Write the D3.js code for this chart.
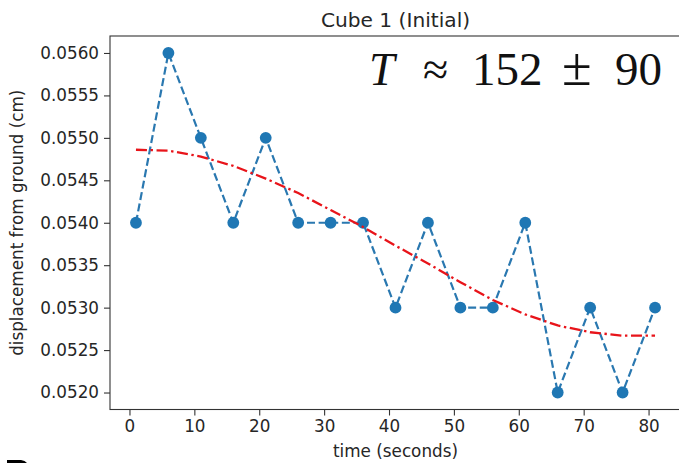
<!DOCTYPE html>
<html>
<head>
<meta charset="utf-8">
<script src="https://cdn.jsdelivr.net/npm/d3@7/dist/d3.min.js"></script>
<style>
  html, body { margin: 0; padding: 0; background: #fff; }
  svg { display: block; }
</style>
</head>
<body>
<svg id="chart" width="679" height="463"></svg>
<script>
// ---- data ----
const times = [1, 6, 11, 16, 21, 26, 31, 36, 41, 46, 51, 56, 61, 66, 71, 76, 81];
const displacement = [0.0540, 0.0560, 0.0550, 0.0540, 0.0550, 0.0540, 0.0540, 0.0540, 0.0530,
                      0.0540, 0.0530, 0.0530, 0.0540, 0.0520, 0.0530, 0.0520, 0.0530];
const fitValues = [0.05486, 0.05485, 0.05478, 0.05467, 0.05452, 0.05435, 0.05415, 0.05395, 0.05373,
                   0.05352, 0.05330, 0.05309, 0.05292, 0.05279, 0.05271, 0.05267, 0.05267];
const xTicks = [0, 10, 20, 30, 40, 50, 60, 70, 80];
const yTicks = [0.0520, 0.0525, 0.0530, 0.0535, 0.0540, 0.0545, 0.0550, 0.0555, 0.0560];
const titleText = "Cube 1 (Initial)";
const xLabel = "time (seconds)";
const yLabel = "displacement from ground (cm)";
const periodParts = ["T", "\u2248", "152", "\u00B1", "90"];

// ---- layout ----
const svg = d3.select("#chart");
const L = 110, T = 36, R = 681, B = 409.5;
const font = "'DejaVu Sans', sans-serif";
const fs = 16.8;

const x = d3.scaleLinear().domain([-3, 85]).range([L, R]);
const y = d3.scaleLinear().domain([0.0518, 0.0562]).range([B, T]);

svg.append("defs").append("clipPath").attr("id", "clip")
  .append("rect").attr("x", L).attr("y", T).attr("width", R - L).attr("height", B - T);

// axes
const xAxis = svg.append("g").attr("transform", `translate(0,${B})`)
  .call(d3.axisBottom(x).tickValues(xTicks).tickSize(6).tickPadding(5).tickFormat(d3.format("d")));
const yAxis = svg.append("g").attr("transform", `translate(${L},0)`)
  .call(d3.axisLeft(y).tickValues(yTicks).tickSize(6).tickPadding(5).tickFormat(d3.format(".4f")));
[xAxis, yAxis].forEach(g => {
  g.select(".domain").remove();
  g.selectAll(".tick line").attr("stroke", "#333").attr("stroke-width", 1.1);
  g.selectAll(".tick text").attr("fill", "#262626").style("font-family", font).style("font-size", fs + "px");
});

// spines
svg.append("rect").attr("x", L).attr("y", T).attr("width", R - L).attr("height", B - T)
  .attr("fill", "none").attr("stroke", "#333").attr("stroke-width", 1.1);

const plot = svg.append("g").attr("clip-path", "url(#clip)");
const pts = times.map((t, i) => [t, displacement[i]]);
const fit = times.map((t, i) => [t, fitValues[i]]);
const line = d3.line().x(d => x(d[0])).y(d => y(d[1]));

plot.append("path").datum(pts).attr("d", line)
  .attr("fill", "none").attr("stroke", "#2a78b0").attr("stroke-width", 2.2)
  .attr("stroke-dasharray", "8,3.6");
plot.selectAll("circle").data(pts).enter().append("circle")
  .attr("cx", d => x(d[0])).attr("cy", d => y(d[1])).attr("r", 5.9).attr("fill", "#1f77b4");
plot.append("path").datum(fit).attr("d", line)
  .attr("fill", "none").attr("stroke", "#e8141a").attr("stroke-width", 2.3)
  .attr("stroke-dasharray", "11,3.6,2.4,3.6");

// title & labels
svg.append("text").attr("x", (L + R) / 2).attr("y", 27).attr("text-anchor", "middle")
  .style("font-family", font).style("font-size", (fs * 1.2) + "px").attr("fill", "#262626").text(titleText);
svg.append("text").attr("x", (L + R) / 2).attr("y", 457).attr("text-anchor", "middle")
  .style("font-family", font).style("font-size", fs + "px").attr("fill", "#262626").text(xLabel);
svg.append("text").attr("transform", `translate(23,${(T + B) / 2}) rotate(-90)`).attr("text-anchor", "middle")
  .style("font-family", font).style("font-size", fs + "px").attr("fill", "#262626").text(yLabel);

// period annotation
const partX = [369, 423, 472, 562, 615];
const partSize = [46, 46, 47, 54, 47];
const ann = svg.append("g").style("font-family", "'Liberation Serif', serif").attr("fill", "#111");
periodParts.forEach((p, i) => {
  ann.append("text").attr("x", partX[i]).attr("y", 85)
    .style("font-size", partSize[i] + "px")
    .style("font-style", i === 0 ? "italic" : "normal").text(p);
});

// cut-off glyph fragment at bottom-left (top of a letter from the page below)
svg.append("path").attr("d", "M7,460 L21,460 Q25,460.5 27,463 L7,463 Z").attr("fill", "#000");
</script>
</body>
</html>
